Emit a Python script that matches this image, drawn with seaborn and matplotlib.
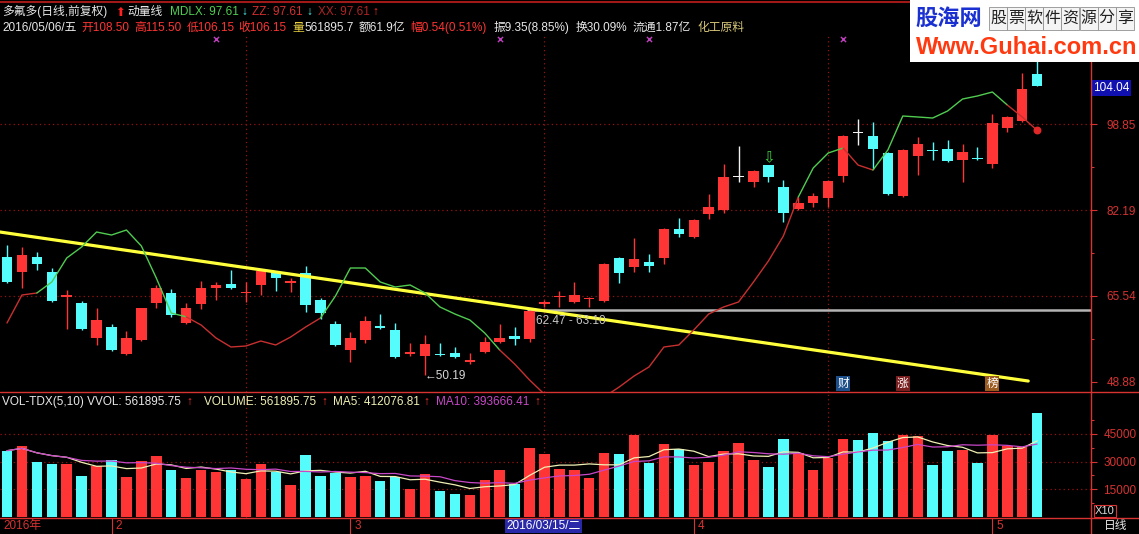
import numpy as np
import pandas as pd
import matplotlib
matplotlib.use("Agg")
import matplotlib.pyplot as plt
import matplotlib.transforms as mtransforms
from matplotlib.patches import Rectangle
import seaborn as sns

# ---------------- data ----------------
open_ = [73.09, 70.19, 73.09, 70.19, 65.34, 64.18, 57.40, 59.53, 54.30, 57.01,
         64.18, 66.12, 60.31, 63.99, 67.09, 67.86, 66.12, 67.67, 70.19, 68.06,
         69.99, 64.76, 60.11, 55.08, 57.01, 59.73, 58.95, 54.30, 53.92, 54.20,
         54.50, 52.75, 54.69, 56.63, 57.79, 57.21, 64.08, 65.25, 64.38, 64.86,
         64.57, 72.90, 71.15, 72.12, 72.90, 78.52, 76.97, 81.42, 82.19, 88.59,
         87.62, 90.91, 86.65, 82.39, 83.55, 84.52, 88.78, 97.11, 96.53, 93.23,
         84.91, 92.65, 93.72, 94.01, 91.88, 92.17, 91.10, 98.08, 99.43, 108.50]
high = [75.42, 75.03, 74.06, 70.96, 66.70, 64.57, 63.21, 60.11, 58.76, 63.30,
        67.67, 66.89, 64.18, 68.44, 68.25, 70.57, 68.25, 70.50, 70.30, 69.02,
        71.35, 65.15, 60.70, 58.56, 61.66, 62.05, 60.31, 56.43, 57.98, 56.43,
        55.66, 54.50, 57.60, 60.11, 59.53, 62.80, 64.76, 66.51, 68.25, 65.34,
        71.90, 73.10, 76.77, 73.67, 78.70, 80.65, 80.40, 85.29, 91.10, 94.59,
        89.90, 91.00, 88.01, 84.71, 85.49, 88.00, 96.70, 99.82, 99.24, 93.40,
        94.00, 96.33, 95.36, 95.75, 94.98, 94.40, 100.79, 100.40, 108.73, 115.50]
low = [68.10, 67.09, 70.57, 64.40, 59.15, 59.00, 56.05, 54.90, 54.10, 56.90,
       63.21, 61.47, 60.20, 63.02, 64.76, 66.90, 64.38, 65.73, 66.51, 66.31,
       62.44, 61.08, 55.90, 52.75, 56.43, 59.20, 53.60, 53.92, 50.19, 54.00,
       53.60, 52.37, 54.50, 56.40, 56.05, 56.63, 63.41, 63.41, 64.20, 63.41,
       64.40, 68.06, 70.19, 70.19, 71.74, 76.97, 76.80, 80.45, 81.62, 87.62,
       86.65, 87.62, 79.87, 82.20, 82.77, 82.77, 87.62, 94.79, 90.14, 85.10,
       84.70, 88.97, 91.88, 91.49, 87.62, 91.90, 90.33, 97.30, 99.30, 106.15]
close = [68.25, 73.48, 71.74, 64.57, 65.73, 59.15, 60.89, 55.08, 57.40, 63.21,
         67.09, 61.86, 63.21, 67.09, 67.67, 67.09, 66.31, 70.38, 69.02, 68.44,
         63.79, 62.24, 56.05, 57.40, 60.70, 59.34, 53.72, 54.69, 56.24, 54.08,
         53.72, 53.14, 56.63, 57.40, 57.21, 62.63, 64.18, 65.34, 65.73, 64.96,
         71.74, 69.99, 72.70, 71.35, 78.52, 77.55, 80.26, 82.77, 88.59, 88.59,
         89.75, 88.59, 81.62, 83.55, 84.91, 87.81, 96.53, 97.11, 94.01, 85.29,
         93.82, 94.98, 93.53, 91.69, 93.43, 92.07, 99.05, 100.21, 105.61, 106.15]
# volume in axis units (x10)
volume = [35890, 38455, 29890, 28636, 28636, 22090, 27710, 30818, 21380, 30270,
          33000, 25364, 21000, 25364, 24436, 25364, 20618, 28636, 24436, 17182,
          33545, 22090, 23890, 21710, 22090, 19527, 21710, 15164, 23182, 14073,
          12273, 11727, 19909, 25364, 17727, 37200, 34090, 25745, 25364, 21000,
          34800, 34090, 44618, 29018, 39545, 36655, 28255, 29890, 35890, 40255,
          30818, 27164, 42273, 34473, 25364, 31745, 42273, 41727, 45709, 41018,
          44618, 43909, 28090, 35890, 36273, 29345, 44618, 38455, 37745, 56190]
vol_dir = ("crccrcrcrr" "rcrrrcrrcr" "cccrrccrrc" "crrrcrrrrr"
           "rcrcrcrrrr" "rccrrrrccc" "rrccrcrrrc")
# momentum line (动量线)
mdlx = [60.31, 65.73, 66.12, 68.25, 72.90, 75.03, 77.93, 77.35, 78.32, 75.22,
        69.02, 62.24, 61.50, 59.92, 57.40, 55.66, 55.85, 56.82, 56.05, 57.60,
        59.53, 61.28, 65.54, 70.96, 70.96, 68.25, 67.28, 67.67, 66.12, 63.41,
        62.05, 60.89, 58.37, 55.08, 52.37, 49.27, 46.50, 45.00, 44.00, 44.50,
        46.00, 47.90, 50.04, 51.79, 55.66, 56.05, 58.95, 62.05, 63.41, 64.38,
        68.25, 72.32, 77.16, 84.71, 90.33, 93.23, 94.20, 90.91, 89.94, 93.82,
        100.40, 100.21, 100.01, 101.37, 103.69, 104.28, 105.05, 102.53, 100.21, 97.61]
mdlx_green = [(2, 12), (21, 33), (53, 56), (58, 67)]
trend_x = [-0.47, 68.4]
trend_y = [77.93, 49.07]
support_start = 35
support_price = 62.83
price_ticks = [48.88, 65.54, 82.19, 98.85]
price_tick_labels = ["48.88", "65.54", "82.19", "98.85"]
vol_ticks = [15000, 30000, 45000]
vol_tick_labels = ["15000", "30000", "45000"]
month_pos = [7, 23, 46, 66]
month_labels = ["2", "3", "4", "5"]
signal_x = [14, 33, 43, 56]
news_pos = [56, 60, 66]
news_labels = ["财", "涨", "榜"]
news_colors = ["#1d4f8a", "#7a1f1f", "#9a5a20"]

# ---------------- styling ----------------
sns.set_theme(style="dark", rc={"axes.facecolor": "black", "figure.facecolor": "black"})
plt.rcParams["font.family"] = ["Liberation Sans", "Noto Sans CJK SC", "DejaVu Sans"]

RED = "#ff3434"
CYAN = "#54fcfc"
WHITE = "#f0f0f0"
AXRED = "#d83232"
GRID = "#9a1010"
FS = 8.5

W, H = 1139, 534
fig = plt.figure(figsize=(W / 100, H / 100), dpi=100, facecolor="black")


def fx(x):
    return x / W


def fy(y):
    return 1 - y / H


XL, DX = 7.0, 14.93
xlim = (-XL / DX, (1091 - XL) / DX)

ax_p = fig.add_axes([0, fy(392), 1091 / W, (392 - 36) / H])
ax_v = fig.add_axes([0, fy(518), 1091 / W, (518 - 392) / H])
for ax in (ax_p, ax_v):
    ax.set_facecolor("black")
    ax.set_xlim(*xlim)
    ax.grid(False)
    for s in ax.spines.values():
        s.set_visible(False)
    ax.set_xticks([])
    ax.set_xlabel("")
    ax.set_ylabel("")

ax_p.set_ylim(46.943, 115.897)
ax_v.set_ylim(-818, 67909)

idx = np.arange(len(open_))
o = np.array(open_); c = np.array(close); h = np.array(high); l = np.array(low)
col = np.where(c > o, RED, np.where(c < o, CYAN, WHITE))

# grid
dot = (0, (1, 2.5))
for p in price_ticks[1:]:
    ax_p.axhline(p, color=GRID, lw=0.9, ls=dot, zorder=0)
for v in vol_ticks:
    ax_v.axhline(v, color=GRID, lw=0.9, ls=dot, zorder=0)
for gx in (16, 36, 55):
    ax_p.axvline(gx, color=GRID, lw=0.9, ls=dot, zorder=0)
    ax_v.axvline(gx, color=GRID, lw=0.9, ls=dot, zorder=0)

# candles
ax_p.vlines(idx, l, h, colors=col, lw=1.0, zorder=3)
ax_p.bar(idx, np.maximum(np.abs(c - o), 0.2), bottom=np.minimum(o, c), width=0.7,
         color=col, linewidth=0, zorder=4)

# trend line & support line
sns.lineplot(x=trend_x, y=trend_y, ax=ax_p, color="#ffff3c", lw=2.3, zorder=5)
ax_p.hlines(support_price, support_start - 0.2, xlim[1], color="#b4b4b4", lw=1.8, zorder=2)

# momentum line, coloured by segment
seg_green = np.zeros(len(idx) - 1, dtype=bool)
for a, b in mdlx_green:
    seg_green[a:b] = True
runs = []
start = 0
for k in range(1, len(seg_green) + 1):
    if k == len(seg_green) or seg_green[k] != seg_green[start]:
        runs.append((start, k, seg_green[start]))
        start = k
for a, b, g in runs:
    sns.lineplot(x=idx[a:b + 1], y=mdlx[a:b + 1], ax=ax_p,
                 color="#50cc50" if g else "#c83030", lw=1.0, zorder=6)
ax_p.scatter([idx[-1]], [mdlx[-1]], s=22, color="#e02828", zorder=7)

# signal marks
ax_p.scatter(signal_x, [115.4] * len(signal_x), marker="x", s=14, color="#c040c0", lw=1.0, zorder=7)
ax_p.text(51, 92.3, "⇩", color="#40d040", fontsize=11, ha="center", va="center",
          family="DejaVu Sans", zorder=7)
ax_p.text(35.45, 60.7, "62.47 - 63.10", color="#c8c8c8", fontsize=8.5, ha="left", va="center", zorder=7)
ax_p.text(28.0, 50.0, "←50.19", color="#d8d8d8", fontsize=8.5, ha="left", va="center", zorder=7)
for px_, lab, bc in zip(news_pos, news_labels, news_colors):
    ax_p.text(px_, 48.6, lab, color="white", fontsize=8.5, ha="center", va="center",
              family="Noto Sans CJK SC",
              bbox=dict(boxstyle="square,pad=0.1", fc=bc, ec="none"), zorder=7)

# price axis
ax_p.yaxis.tick_right()
ax_p.set_yticks(price_ticks)
ax_p.set_yticklabels(price_tick_labels)
ax_p.set_yticks([57.21, 73.87, 90.52, 107.2], minor=True)
ax_p.tick_params(axis="y", which="major", colors=AXRED, labelcolor=AXRED, length=4,
                 width=0.8, pad=7, labelsize=FS, direction="out", right=True, left=False)
ax_p.tick_params(axis="y", which="minor", colors=AXRED, length=2, width=0.8, right=True, left=False)

# volume bars
vdf = pd.DataFrame({"i": idx, "vol": volume, "dir": list(vol_dir)})
sns.barplot(data=vdf, x="i", y="vol", hue="dir", palette={"r": RED, "c": CYAN},
            native_scale=True, width=0.7, dodge=False, legend=False, saturation=1,
            linewidth=0, ax=ax_v, zorder=3)
ma5 = pd.Series(volume).rolling(5, min_periods=1).mean()
ma10 = pd.Series(volume).rolling(10, min_periods=1).mean()
sns.lineplot(x=idx, y=ma5.values, ax=ax_v, color="#f0f0b4", lw=0.9, zorder=5)
sns.lineplot(x=idx, y=ma10.values, ax=ax_v, color="#c848c8", lw=0.9, zorder=5)
ax_v.set_xlim(*xlim)
ax_v.set_ylim(-818, 67909)
ax_v.set_xticks([])
ax_v.set_xlabel(""); ax_v.set_ylabel("")
ax_v.yaxis.tick_right()
ax_v.set_yticks(vol_ticks)
ax_v.set_yticklabels(vol_tick_labels)
ax_v.set_yticks([7500, 22500, 37500, 52500], minor=True)
ax_v.tick_params(axis="y", which="major", colors=AXRED, labelcolor=AXRED, length=4,
                 width=0.8, pad=5, labelsize=FS, direction="out", right=True, left=False)
ax_v.tick_params(axis="y", which="minor", colors=AXRED, length=2, width=0.8, right=True, left=False)

# ---------------- frame lines ----------------
def fline(x0, y0, x1, y1, color=AXRED, lw=1.0):
    fig.add_artist(plt.Line2D([fx(x0), fx(x1)], [fy(y0), fy(y1)], transform=fig.transFigure,
                              color=color, lw=lw, zorder=20))

fline(0, 1.5, W, 1.5, color="#a01818", lw=1.5)
fline(0, 392, W, 392)
fline(0, 518, W, 518)
fline(1091, 34, 1091, H)

# ---------------- header texts ----------------
def T(x, y, s, color, size=FS, **kw):
    fig.text(fx(x), fy(y), s, color=color, fontsize=size, ha="left", va="center", **kw)

T(2, 12, "多氟多(日线,前复权)", "#e8e8e8")
T(115, 12, "⬆", "#ff2020", family="DejaVu Sans")
T(127, 12, "动量线", "#e8e8e8")
T(170, 12, "MDLX: 97.61", "#50d050")
T(241, 12, "↓", CYAN)
T(252, 12, "ZZ: 97.61", "#d83030")
T(306, 12, "↓", CYAN)
T(318, 12, "XX: 97.61", "#b02424")
T(372, 12, "↑", "#ff3030")

T(2, 28, "2016/05/06/五", "#e8e8e8")
T(81, 28, "开108.50", RED)
T(134, 28, "高115.50", RED)
T(187, 28, "低106.15", RED)
T(238, 28, "收106.15", RED)
T(292, 28, "量", "#e8d040")
T(304, 28, "561895.7", "#e8e8e8")
T(359, 28, "额61.9亿", "#e8e8e8")
T(410, 28, "幅0.54(0.51%)", RED)
T(494, 28, "振9.35(8.85%)", "#e8e8e8")
T(576, 28, "换30.09%", "#e8e8e8")
T(633, 28, "流通1.87亿", "#e8e8e8")
T(697, 28, "化工原料", "#d8c878")

T(2, 402, "VOL-TDX(5,10) VVOL: 561895.75", "#e8e8e8")
T(186, 402, "↑", "#ff3030")
T(204, 402, "VOLUME: 561895.75", "#f0f0b4")
T(321, 402, "↑", "#ff3030")
T(333, 402, "MA5: 412076.81", "#f0f0b4")
T(423, 402, "↑", "#ff3030")
T(436, 402, "MA10: 393666.41", "#c848c8")
T(534, 402, "↑", "#ff3030")

# right side boxes
fig.text(fx(1093), fy(88), "104.04", color="white", fontsize=FS, ha="left", va="center",
         bbox=dict(boxstyle="square,pad=0.15", fc="#1010b0", ec="none"))
fig.text(fx(1095), fy(511), "X10", color="#d8d8d8", fontsize=8, ha="left", va="center",
         bbox=dict(boxstyle="square,pad=0.1", fc="black", ec=AXRED, lw=0.8))
fig.text(fx(1104), fy(526), "日线", color="#e8e8e8", fontsize=FS, ha="left", va="center")

# date axis
btr = mtransforms.blended_transform_factory(ax_v.transData, fig.transFigure)
fig.text(fx(3), fy(526), "2016年", color=AXRED, fontsize=FS, ha="left", va="center")
for mp, ml in zip(month_pos, month_labels):
    fig.add_artist(plt.Line2D([mp, mp], [fy(518), fy(534)], transform=btr, color=AXRED, lw=0.8))
    fig.text(mp + 0.25, fy(526), ml, color=AXRED, fontsize=FS, ha="left", va="center", transform=btr)
fig.text(33.45, fy(526), "2016/03/15/二", color="white", fontsize=FS, ha="left", va="center",
         transform=btr, bbox=dict(boxstyle="square,pad=0.12", fc="#2828a8", ec="none"))

# watermark
wm = Rectangle((fx(910), fy(62)), fx(1139) - fx(910), fy(0) - fy(62), transform=fig.transFigure,
               facecolor="white", edgecolor="none", zorder=30)
fig.add_artist(wm)
fig.text(fx(915), fy(18), "股海网", color="#1a30d0", fontsize=16, fontweight="bold",
         ha="left", va="center", family="Noto Sans CJK SC", zorder=31)
for k, ch in enumerate("股票软件资源分享"):
    cx = 989 + 18.1 * k
    fig.add_artist(Rectangle((fx(cx), fy(30)), fx(18), fy(7) - fy(30), transform=fig.transFigure,
                             facecolor="#f4f4f4", edgecolor="#909090", lw=0.6, zorder=31))
    fig.text(fx(cx + 9), fy(18.5), ch, color="#202020", fontsize=11.5, ha="center", va="center",
             family="Noto Sans CJK SC", zorder=32)
t = fig.text(fx(916), fy(48), "Www.Guhai.com.cn", color="#ff3a10", fontsize=17, fontweight="bold",
             ha="left", va="center", family="Liberation Sans", zorder=31)
t.set_clip_path(wm)

fig.savefig("out.png", dpi=100, facecolor="black")
